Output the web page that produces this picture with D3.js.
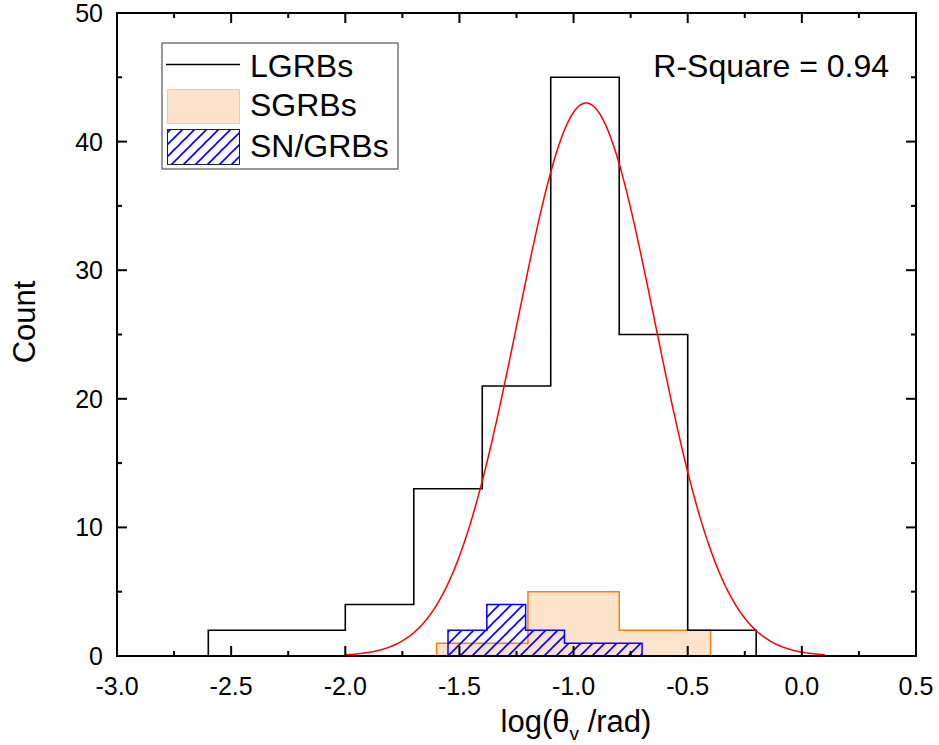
<!DOCTYPE html>
<html>
<head>
<meta charset="utf-8">
<script src="https://cdn.jsdelivr.net/npm/d3@7"></script>
<style>
  html, body { margin: 0; padding: 0; background: #fff; }
  svg { display: block; font-family: "Liberation Sans", Arial, sans-serif; }
</style>
</head>
<body>
<svg id="chart" width="939" height="745"></svg>
<script>
// ---- data ----
const lgrbEdges  = [-2.6, -2.3, -2.0, -1.7, -1.4, -1.1, -0.8, -0.5, -0.2];
const lgrbCounts = [2, 2, 4, 13, 21, 45, 25, 2];
const sgrbEdges  = [-1.6, -1.2, -0.8, -0.4];
const sgrbCounts = [1, 5, 2];
const snEdges    = [-1.55, -1.38, -1.21, -1.04, -0.87, -0.70];
const snCounts   = [2, 4, 2, 1, 1];
// Gaussian fit parameters
const fitCenter = -0.945;
const fitSigma = 0.30;
const fitAmplitude = 43;
const fitRange = [-2.0, 0.1];
const xTicks = [-3.0, -2.5, -2.0, -1.5, -1.0, -0.5, 0.0, 0.5];
const xTickLabels = ["-3.0", "-2.5", "-2.0", "-1.5", "-1.0", "-0.5", "0.0", "0.5"];
const yTicks = [0, 10, 20, 30, 40, 50];
const legendLabels = ["LGRBs", "SGRBs", "SN/GRBs"];
const rSquareText = "R-Square = 0.94";

// ---- layout ----
const svg = d3.select("#chart");
const L = 117, R = 916, T = 13, B = 656;
const x = d3.scaleLinear().domain([-3.0, 0.5]).range([L, R]);
const y = d3.scaleLinear().domain([0, 50]).range([B, T]);

// hatch pattern
const defs = svg.append("defs");
const pat = defs.append("pattern").attr("id", "hatch")
  .attr("patternUnits", "userSpaceOnUse").attr("width", 12).attr("height", 12);
pat.append("path").attr("d", "M-3,3 L3,-3 M0,12 L12,0 M9,15 L15,9")
  .attr("stroke", "#0000ff").attr("stroke-width", 1.6);

function stepPath(edges, counts) {
  const p = d3.path();
  p.moveTo(x(edges[0]), y(0));
  counts.forEach((c, i) => {
    p.lineTo(x(edges[i]), y(c));
    p.lineTo(x(edges[i + 1]), y(c));
  });
  p.lineTo(x(edges[edges.length - 1]), y(0));
  return p.toString();
}

// SGRBs
svg.append("path").attr("d", stepPath(sgrbEdges, sgrbCounts) + "Z")
  .attr("fill", "#fde3cb").attr("stroke", "#ff8000").attr("stroke-width", 1.5);
// SN/GRBs
svg.append("path").attr("d", stepPath(snEdges, snCounts) + "Z")
  .attr("fill", "url(#hatch)").attr("stroke", "#0000ff").attr("stroke-width", 1.5);
// LGRBs
svg.append("path").attr("d", stepPath(lgrbEdges, lgrbCounts))
  .attr("fill", "none").attr("stroke", "#000").attr("stroke-width", 1.6);

// Gaussian fit
const fitXs = d3.range(fitRange[0], fitRange[1] + 1e-9, 0.005);
const gauss = v => fitAmplitude * Math.exp(-((v - fitCenter) ** 2) / (2 * fitSigma * fitSigma));
svg.append("path")
  .attr("d", d3.line().x(d => x(d)).y(d => y(gauss(d)))(fitXs))
  .attr("fill", "none").attr("stroke", "#ff0000").attr("stroke-width", 1.5);

// axes with inward ticks
const xMinor = d3.range(-3.0, 0.5001, 0.25);
const yMinor = d3.range(0, 50.001, 5);
const tickG = svg.append("g").attr("stroke", "#000").attr("stroke-width", 2);
xMinor.forEach(v => {
  const major = xTicks.some(t => Math.abs(t - v) < 1e-6);
  const len = major ? 10 : 5;
  tickG.append("line").attr("x1", x(v)).attr("x2", x(v)).attr("y1", B).attr("y2", B - len);
  tickG.append("line").attr("x1", x(v)).attr("x2", x(v)).attr("y1", T).attr("y2", T + len);
});
yMinor.forEach(v => {
  const major = yTicks.some(t => Math.abs(t - v) < 1e-6);
  const len = major ? 10 : 5;
  tickG.append("line").attr("y1", y(v)).attr("y2", y(v)).attr("x1", L).attr("x2", L + len);
  tickG.append("line").attr("y1", y(v)).attr("y2", y(v)).attr("x1", R).attr("x2", R - len);
});
svg.append("rect").attr("x", L).attr("y", T).attr("width", R - L).attr("height", B - T)
  .attr("fill", "none").attr("stroke", "#000").attr("stroke-width", 2);

// tick labels
svg.append("g").selectAll("text").data(xTicks).join("text")
  .attr("x", d => x(d)).attr("y", B + 39)
  .attr("text-anchor", "middle").attr("font-size", 25)
  .text((d, i) => xTickLabels[i]);
svg.append("g").selectAll("text").data(yTicks).join("text")
  .attr("x", L - 14).attr("y", d => y(d)).attr("dy", "0.36em")
  .attr("text-anchor", "end").attr("font-size", 25)
  .text(d => d);

// axis titles
const xt = svg.append("text").attr("x", 576).attr("y", 732)
  .attr("text-anchor", "middle").attr("font-size", 31);
xt.append("tspan").text("log(θ");
xt.append("tspan").attr("font-size", 19).attr("dy", 8).text("v");
xt.append("tspan").attr("dy", -8).text(" /rad)");
svg.append("text").attr("transform", `translate(35,322) rotate(-90)`)
  .attr("text-anchor", "middle").attr("font-size", 31).text("Count");

// R-square
svg.append("text").attr("x", 889).attr("y", 77).attr("text-anchor", "end")
  .attr("font-size", 32).text(rSquareText);

// legend
const lg = svg.append("g");
lg.append("rect").attr("x", 162).attr("y", 43).attr("width", 236).attr("height", 126)
  .attr("fill", "#fff").attr("stroke", "#333").attr("stroke-width", 1);
lg.append("line").attr("x1", 166).attr("x2", 240).attr("y1", 64.5).attr("y2", 64.5)
  .attr("stroke", "#000").attr("stroke-width", 1.5);
lg.append("rect").attr("x", 167.5).attr("y", 89.5).attr("width", 72).attr("height", 34)
  .attr("fill", "#fde3cb").attr("stroke", "#e9c9a9").attr("stroke-width", 1);
lg.append("rect").attr("x", 167.5).attr("y", 129.5).attr("width", 72).attr("height", 35)
  .attr("fill", "url(#hatch)").attr("stroke", "#222").attr("stroke-width", 1);
lg.selectAll("text.lab").data(legendLabels).join("text").attr("class", "lab")
  .attr("x", 250).attr("y", (d, i) => [77, 116, 157][i])
  .attr("font-size", 32).text(d => d);
</script>
</body>
</html>
